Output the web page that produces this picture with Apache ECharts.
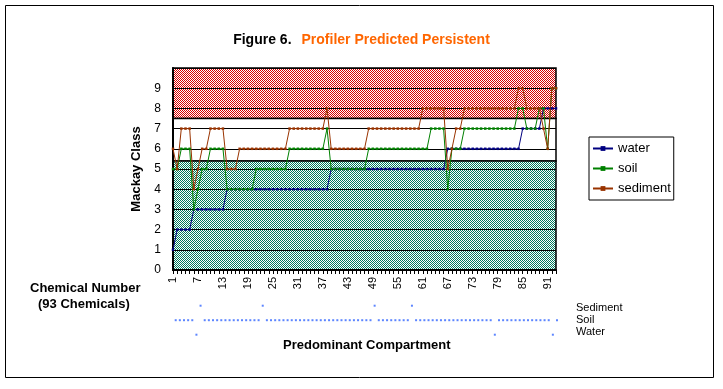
<!DOCTYPE html>
<html>
<head>
<meta charset="utf-8">
<script src="https://cdn.jsdelivr.net/npm/echarts@6/dist/echarts.min.js"></script>
<style>
html,body{margin:0;padding:0;background:#fff;}
#c{width:723px;height:389px;}
</style>
</head>
<body>
<div id="c"></div>
<script>
// ---- data ----
const categories = ['1','2','3','4','5','6','7','8','9','10','11','12','13','14','15','16','17','18','19','20',
'21','22','23','24','25','26','27','28','29','30','31','32','33','34','35','36','37','38','39','40',
'41','42','43','44','45','46','47','48','49','50','51','52','53','54','55','56','57','58','59','60',
'61','62','63','64','65','66','67','68','69','70','71','72','73','74','75','76','77','78','79','80',
'81','82','83','84','85','86','87','88','89','90','91','92','93'];

const water = [
1,2,2,2,2,3,3,3,3,3,
3,3,3,4,4,4,4,4,4,4,
4,4,4,4,4,4,4,4,4,4,
4,4,4,4,4,4,4,4,5,5,
5,5,5,5,5,5,5,5,5,5,
5,5,5,5,5,5,5,5,5,5,
5,5,5,5,5,5,6,6,6,6,
6,6,6,6,6,6,6,6,6,6,
6,6,6,6,7,7,7,7,7,8,
8,8,8];

const soil = [
5,5,6,6,6,3,4,5,5,6,
6,6,6,4,4,4,4,4,4,4,
5,5,5,5,5,5,5,5,6,6,
6,6,6,6,6,6,6,7,5,5,
5,5,5,5,5,5,5,6,6,6,
6,6,6,6,6,6,6,6,6,6,
6,6,7,7,7,7,4,6,6,6,
7,7,7,7,7,7,7,7,7,7,
7,7,7,8,8,7,7,7,8,8,
6,9,9];

const sediment = [
6,5,7,7,7,4,5,6,6,7,
7,7,7,5,5,5,6,6,6,6,
6,6,6,6,6,6,6,6,7,7,
7,7,7,7,7,7,7,8,6,6,
6,6,6,6,6,6,6,7,7,7,
7,7,7,7,7,7,7,7,7,7,
8,8,8,8,8,8,5,6,7,7,
8,8,8,8,8,8,8,8,8,8,
8,8,8,9,9,8,8,8,8,7,
6,9,9];

// predominant compartment per chemical: S = Soil, W = Water, D = Sediment
const predominant = [
'S','S','S','S','S','W','D','S','S','S',
'S','S','S','S','S','S','S','S','S','S',
'S','D','S','S','S','S','S','S','S','S',
'S','S','S','S','S','S','S','S','S','S',
'S','S','S','S','S','S','S','S','D','S',
'S','S','S','S','S','S','S','D','S','S',
'S','S','S','S','S','S','S','S','S','S',
'S','S','S','S','S','S','S','W','S','S',
'S','S','S','S','S','S','S','S','S','S',
'S','W','S'];

const compartments = ['Water','Soil','Sediment'];
const compartmentLabels = ['Sediment','Soil','Water'];
const compartmentCode = {W:'Water', S:'Soil', D:'Sediment'};
const yTicks = [0,1,2,3,4,5,6,7,8,9];
const bandBounds = [10, 7.5, 5.4, 0]; // hatched / clear / hatched zones

// ---- styles ----
const FONT = '"Liberation Sans", Arial, sans-serif';
function pattern(color){
  const c = document.createElement('canvas');
  c.width = 2; c.height = 2;
  const g = c.getContext('2d');
  g.fillStyle = '#ffffff'; g.fillRect(0,0,2,2);
  g.fillStyle = color; g.fillRect(0,0,1,1); g.fillRect(1,1,1,1);
  return {image: c, repeat: 'repeat'};
}
const redPat = pattern('#d80000');
const greenPat = pattern('#007a5c');

const chart = echarts.init(document.getElementById('c'), null, {renderer:'canvas'});

const dotData = predominant.map((c, i) => [categories[i], compartmentCode[c]]);

const graphics = [
  {type:'rect', shape:{x:5.5, y:5.5, width:708, height:372}, style:{fill:'none', stroke:'#000', lineWidth:1}, z:-10},
  {type:'text', left: 30, top: 282, style:{text:'Chemical Number', font:'bold 13px '+FONT, fill:'#000'}},
  {type:'text', left: 38, top: 298, style:{text:'(93 Chemicals)', font:'bold 13px '+FONT, fill:'#000'}},
  {type:'text', left: 283, top: 339, style:{text:'Predominant Compartment', font:'bold 13px '+FONT, fill:'#000'}}
];
const labelTops = [302, 314, 326];
compartmentLabels.forEach((t, k) => {
  graphics.push({type:'text', left: 576, top: labelTops[k], style:{text: t, font:'11px '+FONT, fill:'#000'}});
});

chart.setOption({
  animation: false,
  backgroundColor: '#ffffff',
  title: {
    text: '{a|Figure 6.}  {b|Profiler Predicted Persistent}',
    left: 'center', top: 26,
    textStyle: {
      rich: {
        a: {color:'#000', fontWeight:'bold', fontSize:14, fontFamily:FONT},
        b: {color:'#ff6600', fontWeight:'bold', fontSize:14, fontFamily:FONT}
      }
    }
  },
  legend: {
    orient: 'vertical',
    left: 589, top: 137,
    itemWidth: 20, itemHeight: 6,
    itemGap: 7,
    padding: [5, 3, 5, 3],
    borderColor: '#000', borderWidth: 1,
    backgroundColor: '#fff',
    textStyle: {fontFamily: FONT, fontSize: 13, color: '#000'},
    data: ['water','soil','sediment']
  },
  graphic: graphics,
  grid: [
    {left: 173, right: 167, top: 68, bottom: 119},
    {left: 175.7, right: 166, top: 305.7, height: 29}
  ],
  xAxis: [
    {
      gridIndex: 0, type: 'category', data: categories, boundaryGap: false, z: 2,
      axisLine: {lineStyle: {color:'#000', width: 2}},
      axisTick: {interval: 0, length: 4, lineStyle:{color:'#000'}},
      axisLabel: {interval: 5, rotate: 90, margin: 7, color:'#000', fontFamily: FONT, fontSize: 11},
      splitLine: {show: false}
    },
    {
      gridIndex: 1, type: 'category', data: categories, boundaryGap: false,
      axisLine: {show:false}, axisTick: {show:false}, axisLabel: {show:false}, splitLine:{show:false}
    }
  ],
  yAxis: [
    {
      gridIndex: 0, type: 'value', min: 0, max: 10, interval: 1, z: 2,
      name: 'Mackay Class', nameLocation: 'middle', nameGap: 30, nameRotate: 90,
      nameTextStyle: {fontFamily: FONT, fontWeight:'bold', fontSize: 13, color:'#000'},
      axisLine: {show: true, lineStyle: {color:'#000', width: 2}},
      axisTick: {show: false},
      axisLabel: {margin: 12, color:'#000', fontFamily: FONT, fontSize: 12,
        formatter: v => (yTicks.indexOf(v) >= 0 ? String(v) : '')},
      splitLine: {show: true, lineStyle: {color:'#000', width: 1}}
    },
    {
      gridIndex: 1, type: 'category', data: compartments, boundaryGap: false, position: 'right',
      axisLine: {show:false}, axisTick: {show:false}, splitLine:{show:false},
      axisLabel: {show: false}
    }
  ],
  series: [
    {
      name: 'water', type: 'line', data: water, z: 3,
      symbol: 'rect', symbolSize: 2.5, showSymbol: true,
      lineStyle: {color:'#000080', width: 1}, itemStyle: {color:'#000080'},
      markArea: {
        silent: true, z: 1,
        itemStyle: {borderColor:'#000', borderWidth: 1.5},
        data: [
          [{yAxis: bandBounds[1], itemStyle:{color: redPat}}, {yAxis: bandBounds[0]}],
          [{yAxis: bandBounds[2], itemStyle:{color: '#ffffff'}}, {yAxis: bandBounds[1]}],
          [{yAxis: bandBounds[3], itemStyle:{color: greenPat}}, {yAxis: bandBounds[2]}]
        ]
      }
    },
    {
      name: 'soil', type: 'line', data: soil, z: 3,
      symbol: 'rect', symbolSize: 2.5,
      lineStyle: {color:'#008000', width: 1}, itemStyle: {color:'#008000'}
    },
    {
      name: 'sediment', type: 'line', data: sediment, z: 3,
      symbol: 'rect', symbolSize: 2.5,
      lineStyle: {color:'#993300', width: 1}, itemStyle: {color:'#993300'}
    },
    {
      name: 'compartment', type: 'scatter', xAxisIndex: 1, yAxisIndex: 1,
      data: dotData, symbol: 'rect', symbolSize: 2,
      itemStyle: {color:'#3366ff'}
    }
  ]
});
</script>
</body>
</html>
